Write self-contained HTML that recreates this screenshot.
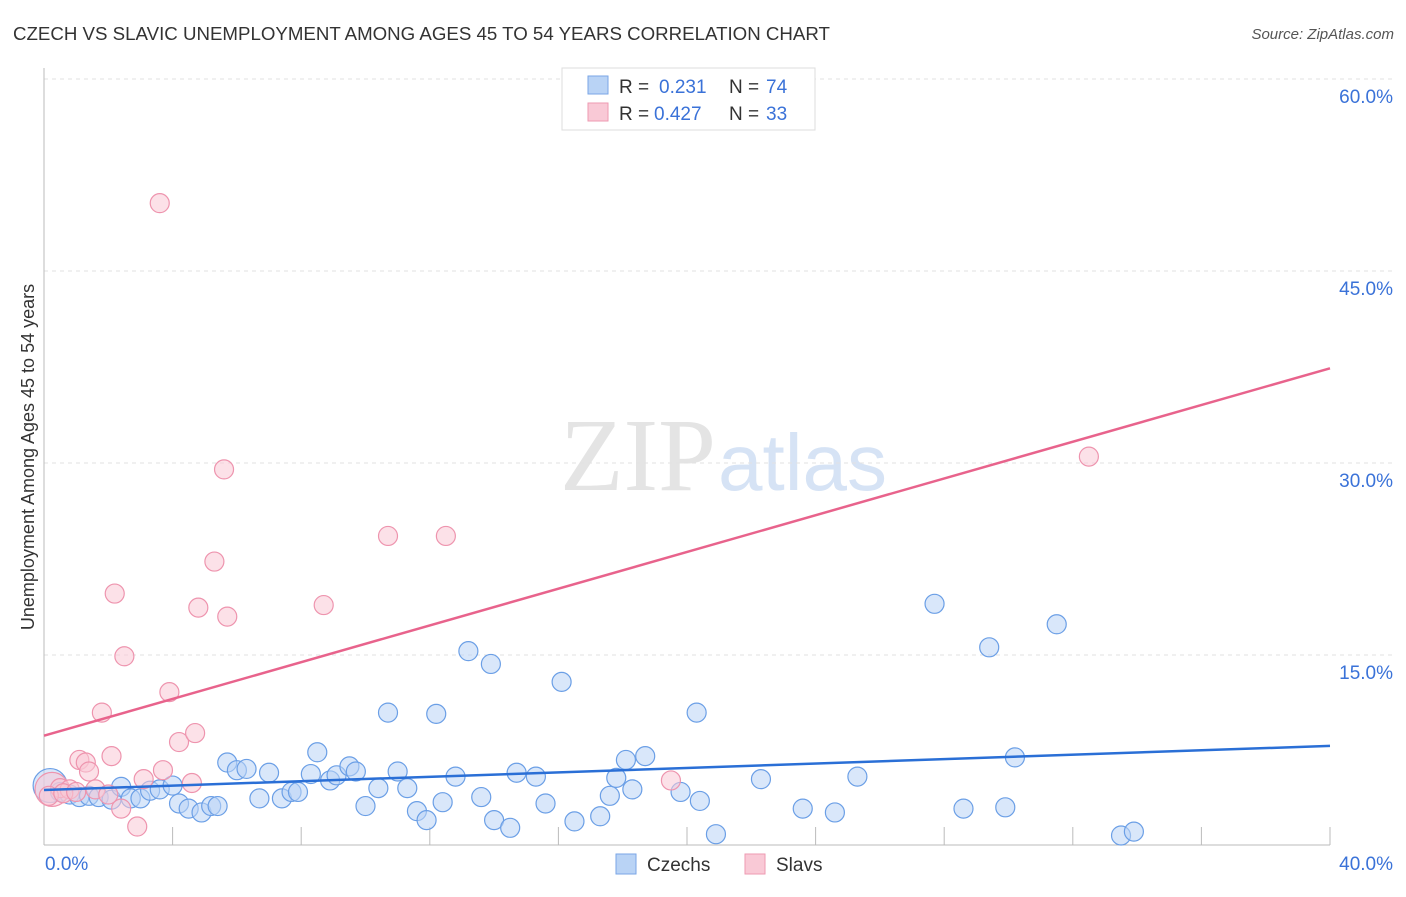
<!DOCTYPE html>
<html><head><meta charset="utf-8"><style>
body{margin:0;background:#fff;font-family:"Liberation Sans",sans-serif;}
svg text{font-family:"Liberation Sans",sans-serif;}
</style></head><body>
<svg width="1406" height="892" id="c">
<text x="13" y="40" font-size="18.7" fill="#333">CZECH VS SLAVIC UNEMPLOYMENT AMONG AGES 45 TO 54 YEARS CORRELATION CHART</text>
<text x="1394" y="39" font-size="15" fill="#555" font-style="italic" text-anchor="end">Source: ZipAtlas.com</text>
<text x="716" y="490" font-size="104" fill="#e4e4e4" text-anchor="end" style="font-family:'Liberation Serif',serif">ZIP</text>
<text x="718" y="490" font-size="80" fill="#d6e3f5">atlas</text>
<g id="grid"></g>
<text transform="translate(34,457) rotate(-90)" font-size="18" fill="#333" text-anchor="middle">Unemployment Among Ages 45 to 54 years</text>
<g id="marks"></g>
<g>
<rect x="562" y="68" width="253" height="62" fill="#fff" stroke="#ddd"/>
<rect x="588" y="76" width="20" height="18" fill="#b9d3f5" stroke="#7aa6e6"/>
<text x="619" y="93" font-size="19" fill="#333">R = </text><text x="659" y="93" font-size="19" fill="#3a72d8">0.231</text>
<text x="729" y="93" font-size="19" fill="#333">N = </text><text x="766" y="93" font-size="19" fill="#3a72d8">74</text>
<rect x="588" y="103" width="20" height="18" fill="#f9c9d6" stroke="#ee9ab2"/>
<text x="619" y="120" font-size="19" fill="#333">R = </text><text x="654" y="120" font-size="19" fill="#3a72d8">0.427</text>
<text x="729" y="120" font-size="19" fill="#333">N = </text><text x="766" y="120" font-size="19" fill="#3a72d8">33</text>
</g>
<g><rect x="616" y="854" width="20" height="20" fill="#b9d3f5" stroke="#7aa6e6"/><text x="647" y="871" font-size="19" fill="#333">Czechs</text></g>
<g><rect x="745" y="854" width="20" height="20" fill="#f9c9d6" stroke="#ee9ab2"/><text x="776" y="871" font-size="19" fill="#333">Slavs</text></g>
</svg>
<script>
const yTicks=[15,30,45,60];
const yTickLabels=["15.0%","30.0%","45.0%","60.0%"];
const czechX=[0.19,0.5,0.8,1.1,1.4,1.7,2.1,2.4,2.7,3.0,3.3,3.6,4.0,4.2,4.5,4.9,5.2,5.4,5.7,6.0,6.3,6.7,7.0,7.4,7.7,7.9,8.3,8.5,8.9,9.1,9.5,9.7,10.0,10.4,10.7,11.0,11.3,11.6,11.9,12.2,12.4,12.8,13.2,13.6,13.9,14.0,14.5,14.7,15.3,15.6,16.1,16.5,17.3,17.6,17.8,18.1,18.3,18.7,19.8,20.3,20.4,20.9,22.3,23.6,24.6,25.3,27.7,28.6,29.4,29.9,30.2,31.5,33.5,33.9];
const czechY=[4.8,4.3,4.1,3.9,4.0,3.9,3.7,4.7,3.8,3.8,4.4,4.5,4.8,3.4,3.0,2.7,3.2,3.2,6.6,6.0,6.1,3.8,5.8,3.8,4.3,4.3,5.7,7.4,5.2,5.6,6.3,5.9,3.2,4.6,10.5,5.9,4.6,2.8,2.1,10.4,3.5,5.5,15.3,3.9,14.3,2.1,1.5,5.8,5.5,3.4,12.9,2.0,2.4,4.0,5.4,6.8,4.5,7.1,4.3,10.5,3.6,1.0,5.3,3.0,2.7,5.5,19.0,3.0,15.6,3.1,7.0,17.4,0.9,1.2];
const slavX=[0.25,0.5,0.8,1.1,1.3,1.4,1.6,1.8,2.1,2.2,2.4,2.5,2.9,3.1,3.6,3.7,3.9,4.2,4.6,4.7,4.8,5.3,5.6,5.7,8.7,10.7,12.5,19.5,32.5,0.15,0.6,1.0,2.0];
const slavY=[4.5,4.6,4.5,6.8,6.6,5.9,4.5,10.5,7.1,19.8,3.0,14.9,1.6,5.3,50.3,6.0,12.1,8.2,5.0,8.9,18.7,22.3,29.5,18.0,18.9,24.3,24.3,5.2,30.5,4.0,4.2,4.3,4.1];
const czechTrend=[4.45,7.9];
const slavTrend=[8.7,37.4];
const X0=44,X1=1330,Y0=847,PY=192/15;
const sx=v=>X0+(X1-X0)*v/40, sy=v=>Y0-v*PY;
const NS="http://www.w3.org/2000/svg";
function mk(t,a,p){const e=document.createElementNS(NS,t);for(const k in a)e.setAttribute(k,a[k]);p.appendChild(e);return e;}
const g=document.getElementById('grid'),m=document.getElementById('marks');
yTicks.forEach((v,i)=>{
 const l=mk('line',{x1:X0,x2:1394,y1:sy(v),y2:sy(v),stroke:'#e2e2e2','stroke-dasharray':'4,4'},g);
 
 
 const t=mk('text',{x:1393,y:sy(v)+24,'font-size':19,fill:'#3a72d8','text-anchor':'end'},g);t.textContent=yTickLabels[i];
 
 
});
mk('line',{x1:X0,x2:X0,y1:68,y2:845,stroke:'#bbb'},g);
mk('line',{x1:X0,x2:X1,y1:845,y2:845,stroke:'#bbb'},g);
for(let i=1;i<=10;i++){const tk=mk('line',{x1:sx(i*4),x2:sx(i*4),y1:827,y2:845,stroke:'#bbb'},g);
 
 }
[["0.0%",45,"start"],["40.0%",1393,"end"]].forEach(a=>{const t=mk('text',{x:a[1],y:870,'font-size':19,fill:'#3a72d8','text-anchor':a[2]},g);t.textContent=a[0];
 
 });
function pts(X,Y,f,s,n){X.forEach((x,i)=>{const c=mk('circle',{cx:sx(x),cy:sy(Y[i]),r:(i==0?17:9.5),fill:f,'fill-opacity':0.55,stroke:s,'stroke-width':1.2},m);
 
 });}
pts(czechX,czechY,'#b9d3f5','#6b9fe6','czech-point');
pts(slavX,slavY,'#f9c9d6','#ee94ae','slav-point');
const lb=mk('line',{x1:sx(0),y1:sy(czechTrend[0]),x2:sx(40),y2:sy(czechTrend[1]),stroke:'#2a6fd6','stroke-width':2.5},m);


const lp=mk('line',{x1:sx(0),y1:sy(slavTrend[0]),x2:sx(40),y2:sy(slavTrend[1]),stroke:'#e8638c','stroke-width':2.5},m);


</script>
</body></html>
